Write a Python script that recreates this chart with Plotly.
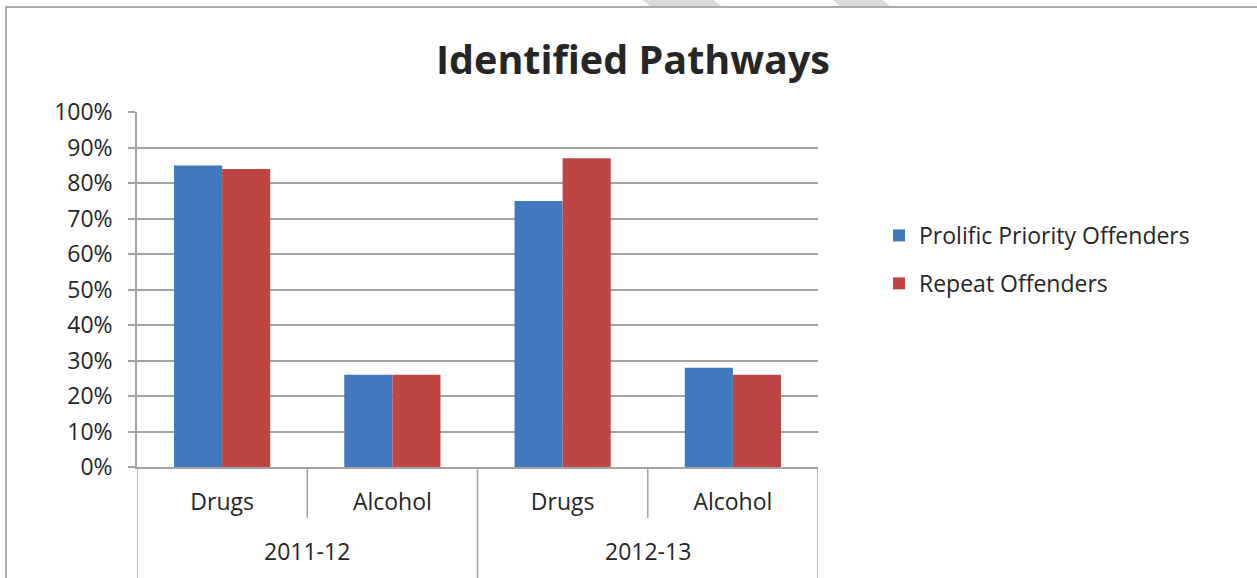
import plotly.graph_objects as go

# data
years = ["2011-12", "2012-13"]
pathways = ["Drugs", "Alcohol"]
prolific = [0.85, 0.26, 0.75, 0.28]   # Prolific Priority Offenders
repeat = [0.84, 0.26, 0.87, 0.26]     # Repeat Offenders

W, H = 1257, 578
L, R, T, B = 137, 818, 112, 467     # plot area in pixels

def px(x):
    return (x - L) / (R - L)

def py(y):
    return (B - y) / (B - T)

FONT = "Open Sans"
TXT = "#262626"
GRID = "#A3A3A3"
BLUE = "#4079BD"
RED = "#BF4542"

n_groups = len(years) * len(pathways)
xpos = list(range(n_groups))
labels = [p for _ in years for p in pathways]

fig = go.Figure()
fig.add_trace(go.Bar(x=xpos, y=prolific, name="Prolific Priority Offenders",
                     marker=dict(color=BLUE, line=dict(width=0)), legendgroup="a"))
fig.add_trace(go.Bar(x=xpos, y=repeat, name="Repeat Offenders",
                     marker=dict(color=RED, line=dict(width=0)), legendgroup="b"))

# category dividers below the axis
shapes = []
for i in range(n_groups + 1):
    xv = i - 0.5
    outer = i % len(pathways) == 0
    shapes.append(dict(type="line", xref="x", yref="paper", x0=xv, x1=xv,
                       y0=0, y1=py(H + 5) if outer else py(518),
                       line=dict(color=GRID, width=1.5)))

# outer chart border
shapes.append(dict(type="rect", xref="paper", yref="paper",
                   x0=px(6), x1=px(W + 20), y0=py(7), y1=py(H + 20),
                   line=dict(color="#8E8E8E", width=1.5)))

# faint watermark stripes at the top
for a, b in [(642, 713), (832, 882)]:
    shapes.append(dict(type="path", xref="paper", yref="paper",
                       path="M{},{} L{},{} L{},{} L{},{} Z".format(
                           px(a - 2), py(-2), px(b - 2), py(-2), px(b + 8), py(6), px(a + 8), py(6)),
                       fillcolor="#DADADA", line=dict(width=0), layer="below"))

annotations = []
for j, yr in enumerate(years):
    annotations.append(dict(text=yr, xref="x", yref="paper",
                            x=j * len(pathways) + (len(pathways) - 1) / 2, y=py(551),
                            yanchor="middle", showarrow=False,
                            font=dict(family=FONT, size=23, color=TXT)))

fig.update_layout(
    width=W, height=H,
    margin=dict(l=L, r=W - R, t=T, b=H - B, pad=0),
    paper_bgcolor="white", plot_bgcolor="white",
    barmode="group", bargap=0.435, bargroupgap=0,
    title=dict(text="<b>Identified Pathways</b>", xref="paper", x=px(633), xanchor="center",
               y=1 - 60 / H, yanchor="middle",
               font=dict(family=FONT, size=39.5, color=TXT)),
    font=dict(family=FONT, size=23, color=TXT),
    legend=dict(x=px(879), xanchor="left", y=py(214), yanchor="top",
                traceorder="grouped", tracegroupgap=15,
                font=dict(family=FONT, size=23, color=TXT)),
    shapes=shapes,
    annotations=annotations,
)
fig.update_xaxes(range=[-0.5, n_groups - 0.5], tickvals=xpos, ticktext=labels,
                 showgrid=False, showline=True, linecolor=GRID, linewidth=1.5,
                 ticks="", ticklabelstandoff=14, tickfont=dict(size=23))
fig.update_yaxes(range=[0, 1.0005], dtick=0.1, tickformat=".0%",
                 showgrid=True, gridcolor=GRID, gridwidth=1.5,
                 zeroline=False, showline=True, linecolor=GRID, linewidth=1.5,
                 ticks="outside", ticklen=7, tickcolor=GRID, tickwidth=1.5,
                 ticklabelstandoff=11, tickfont=dict(size=23))

# the page's default body margin would shift the chart by 8px
fig.write_html("out.html", config={"displayModeBar": False},
               post_script="document.body.style.margin='0';")
